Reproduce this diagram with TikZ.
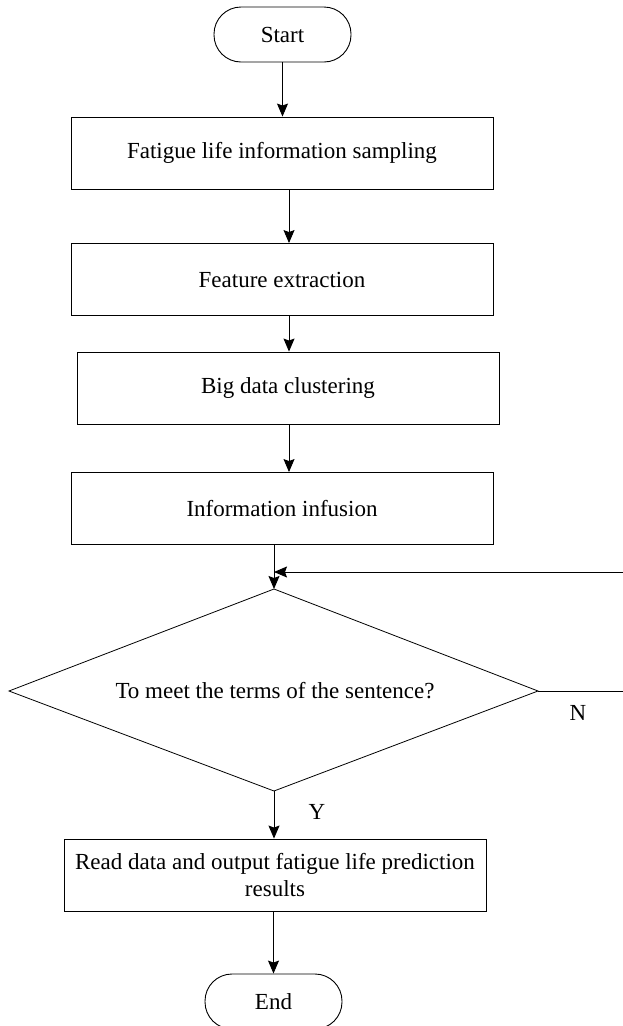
\documentclass[tikz,border=0pt]{standalone}
\usepackage{fontspec}
\setmainfont{Liberation Serif}
\usetikzlibrary{shapes.geometric,arrows.meta}
\begin{document}
\begin{tikzpicture}[x=1pt,y=-1pt,
  every node/.style={font=\fontsize{23}{27}\selectfont},
  procbox/.style={draw, line width=0.9pt, minimum width=422pt, minimum height=72pt, inner sep=0pt, align=center},
  termbox/.style={draw, line width=0.9pt, rounded corners=27pt, minimum width=137pt, minimum height=55pt, inner sep=0pt},
  decline/.style={line width=0.8pt},
  arr/.style={line width=0.9pt, -{Stealth[length=13pt,width=11pt,inset=2pt]}},
  lab/.style={inner sep=0pt}]
\useasboundingbox (0,0) rectangle (623,1026);
\clip (0,0) rectangle (623,1026);
\node[termbox] (start) at (282.5,34.5) {Start};
\node[procbox] (b1) at (282,153) {Fatigue life information sampling};
\node[procbox] (b2) at (282,279.5) {Feature extraction};
\node[procbox] (b3) at (288,388) {Big data clustering};
\node[procbox] (b4) at (282,508.5) {Information infusion};
\coordinate (dt) at (274,589);
\coordinate (db) at (274,791);
\coordinate (dl) at (9,691);
\coordinate (dr) at (538,691);
\draw[decline] (dt) -- (dr) -- (db) -- (dl) -- cycle;
\node[inner sep=0pt] (dec) at (275,691) {To meet the terms of the sentence?};
\node[procbox] (read) at (275,875) {Read data and output fatigue life prediction\\results};
\node[termbox] (end) at (273.5,1001.5) {End};
\node[lab] (nlab) at (578,713) {N};
\node[lab] (ylab) at (317,812) {Y};
\coordinate (fbr) at (640,691);
\coordinate (fbt) at (640,572);
\draw[arr] (start.south) -- (start.south |- b1.north);
\draw[arr] ([xshift=7pt]b1.south) -- ([xshift=7pt]b1.south |- b2.north);
\draw[arr] ([xshift=7pt]b2.south) -- ([xshift=7pt]b2.south |- b3.north);
\draw[arr] ([xshift=1pt]b3.south) -- ([xshift=1pt]b3.south |- b4.north);
\draw[arr] (dt |- b4.south) -- (dt);
\draw[arr] (dr) -- (fbr) -- (fbt) -- (fbt -| dt);
\draw[arr] (db) -- (db |- read.north);
\draw[arr] (read.south -| end.north) -- (end.north);
\end{tikzpicture}
\end{document}
